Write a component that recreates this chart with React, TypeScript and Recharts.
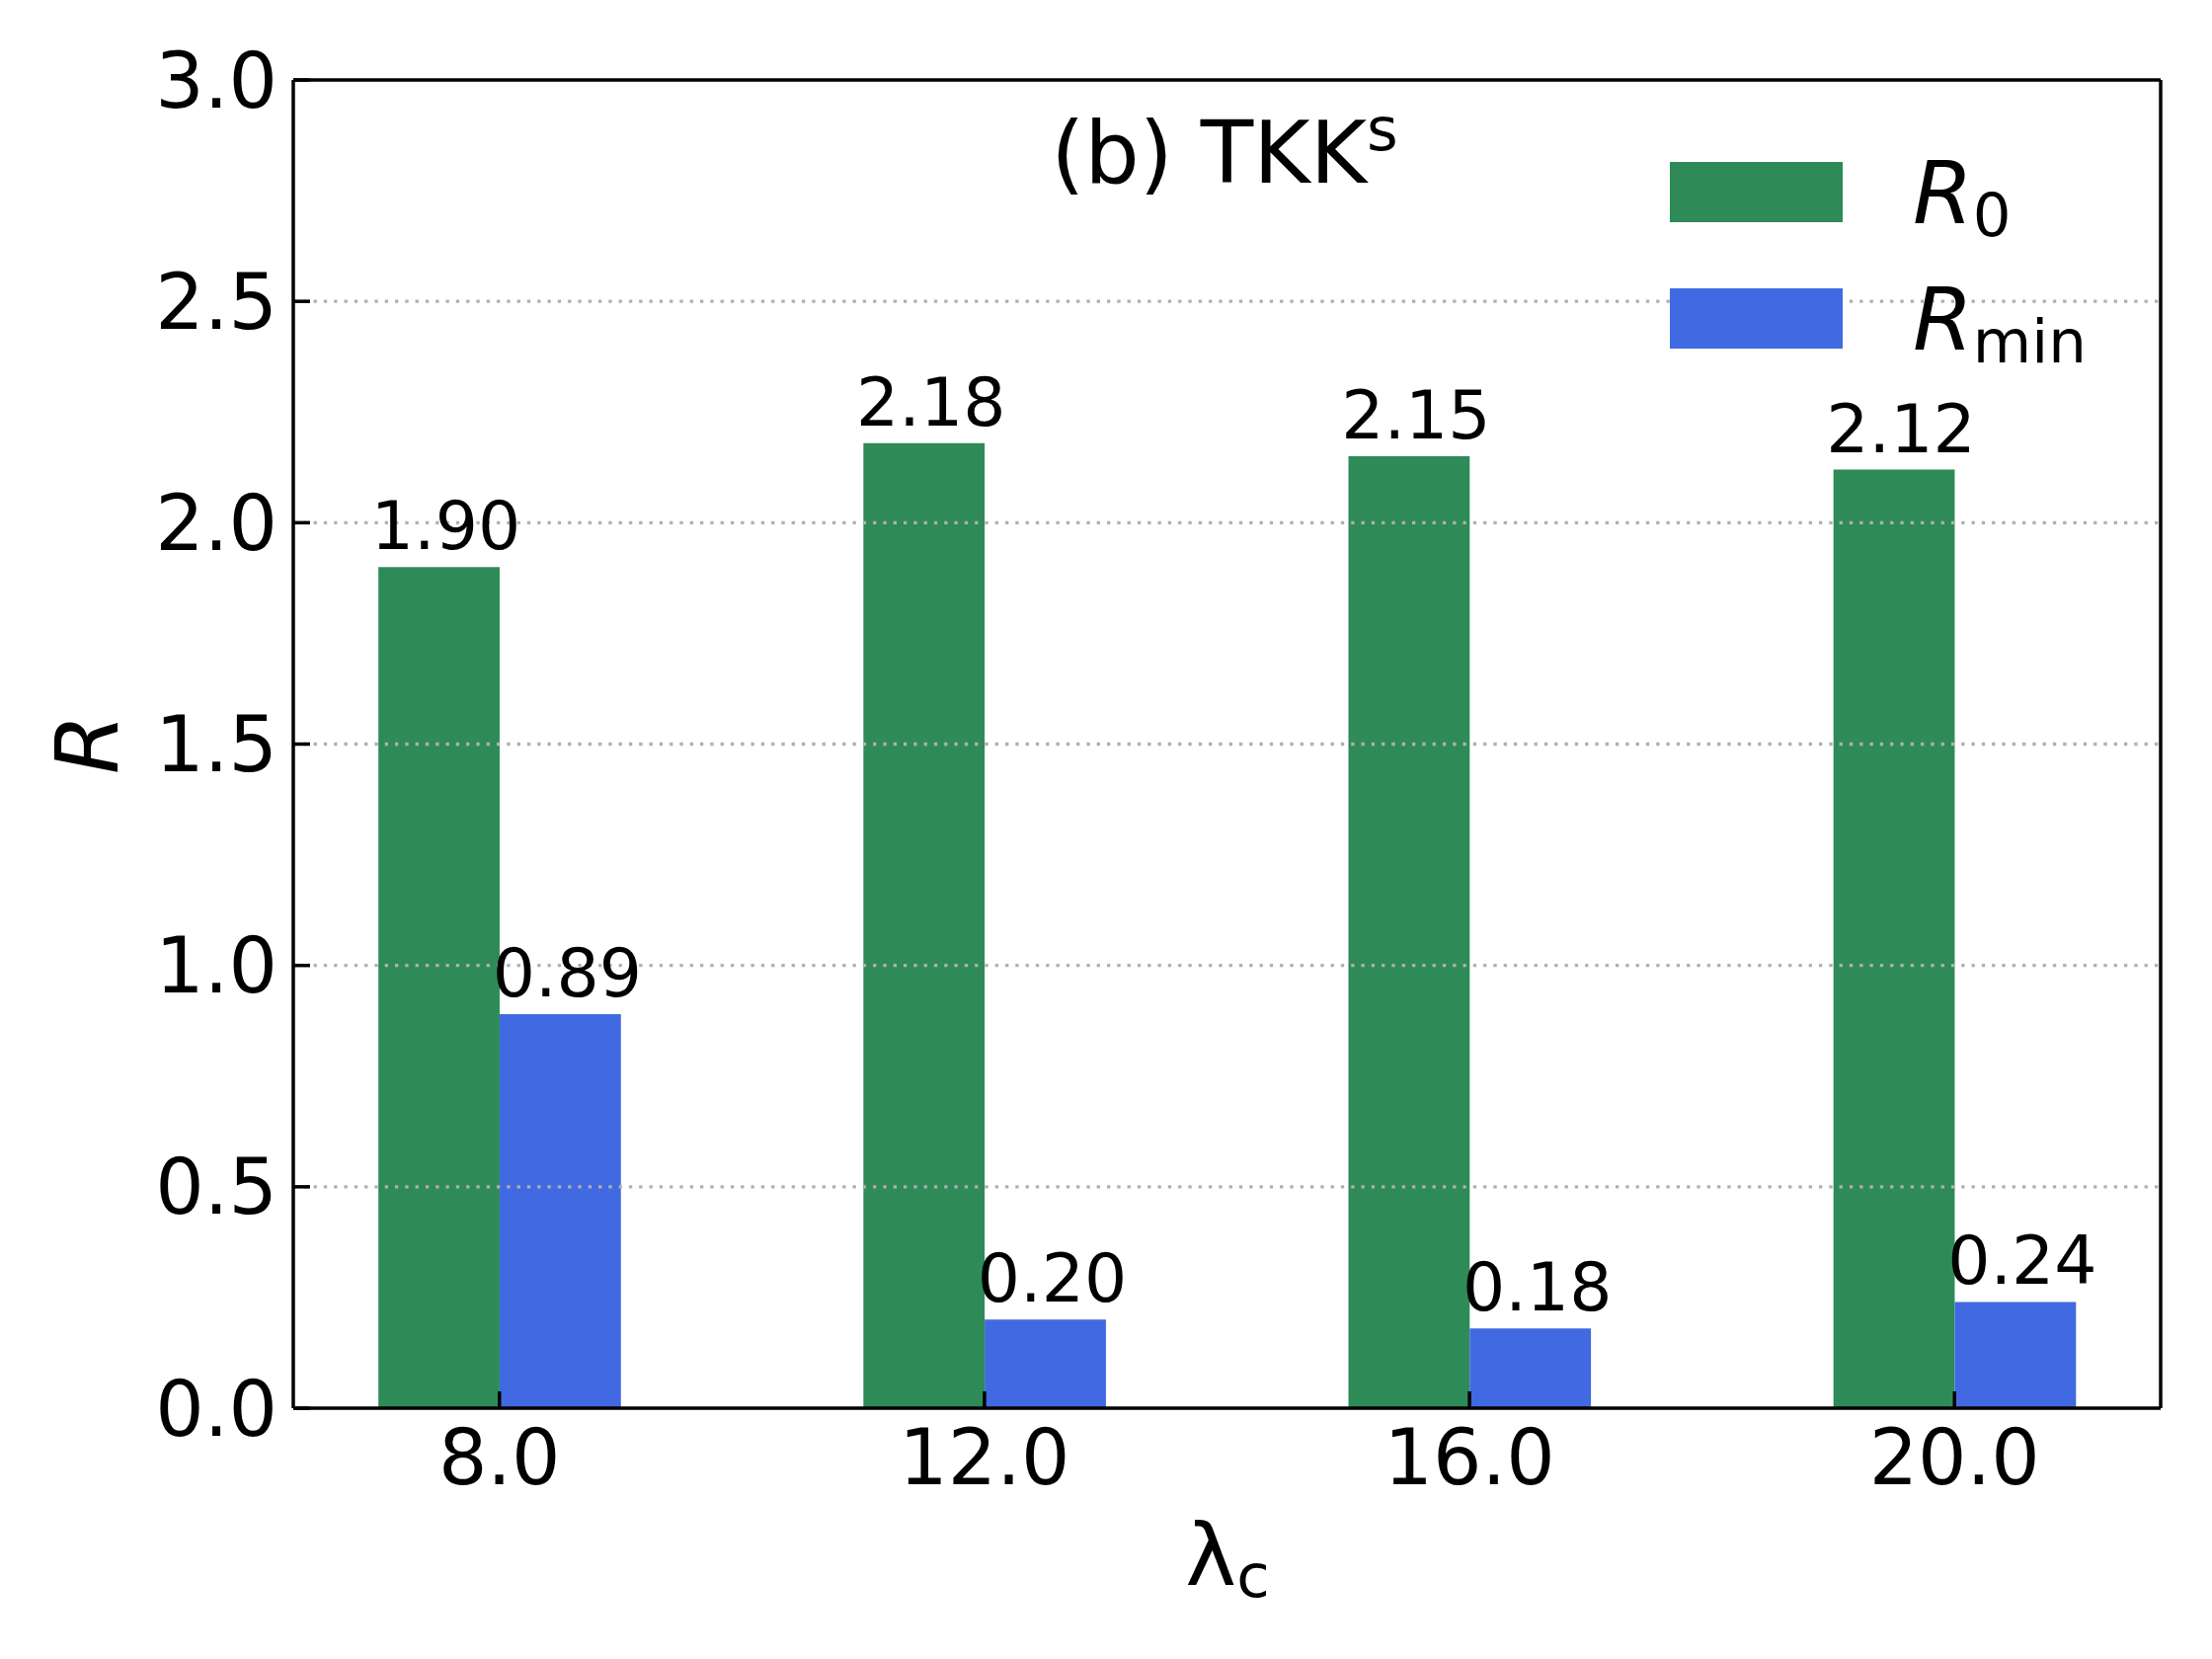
import React from "react"
import { BarChart, Bar, XAxis, YAxis, CartesianGrid, LabelList, Legend } from "recharts"

const lambdas = [8, 12, 16, 20]
const r0Values = [1.9, 2.18, 2.15, 2.12]
const rMinValues = [0.89, 0.2, 0.18, 0.24]
const yTicks = [0, 0.5, 1, 1.5, 2, 2.5, 3]
const gridValues = [0.5, 1, 1.5, 2, 2.5]
const seriesKeys = ["r0", "rMin"]
const seriesNames = ["R0", "Rmin"]
const seriesSubs = ["0", "min"]
const seriesColors = ["#2e8b57", "#4169e1"]

const data = lambdas.map((l, i) => ({ lambda: l, r0: r0Values[i], rMin: rMinValues[i] }))

const FONT = "'DejaVu Sans', sans-serif"
const axisStroke = { stroke: "#000", strokeWidth: 3.5 }
const tickStyle = { fontSize: 77.8, fill: "#000", fontFamily: FONT }

function LegendBox(props: any) {
  const payload = props?.payload || []
  return (
    <svg width={520} height={260} style={{ display: "block", overflow: "visible" }}>
      {payload.map((p: any) => {
        const i = Math.max(0, seriesKeys.indexOf(p.dataKey))
        return (
          <g key={p.dataKey}>
            <rect x={11} y={24 + i * 128} width={175} height={61} fill={seriesColors[i]} />
            <text x={257} y={86 + i * 128} fontFamily={FONT} fontSize={87.5} fill="#000">
              <tspan fontStyle="italic">R</tspan>
              <tspan fontSize={61} dy={13}>{seriesSubs[i]}</tspan>
            </text>
          </g>
        )
      })}
    </svg>
  )
}

export default function App() {
  return (
    <div style={{ position: "absolute", left: 0, top: 0, width: 2240, height: 1680, background: "#fff" }}>
      <BarChart
        width={2240}
        height={1680}
        data={data}
        margin={{ top: 80, right: 51, bottom: 0, left: 0 }}
        barGap={0}
      >
        <Bar dataKey="r0" name={seriesNames[0]} fill={seriesColors[0]} barSize={122.8} isAnimationActive={false}>
          <LabelList
            dataKey="r0"
            position="top"
            offset={18}
            dx={7}
            formatter={(v: any) => Number(v).toFixed(2)}
            fontSize={68}
            fontFamily={FONT}
            fill="#000"
          />
        </Bar>
        <Bar dataKey="rMin" name={seriesNames[1]} fill={seriesColors[1]} barSize={122.8} isAnimationActive={false}>
          <LabelList
            dataKey="rMin"
            position="top"
            offset={18}
            dx={7}
            formatter={(v: any) => Number(v).toFixed(2)}
            fontSize={68}
            fontFamily={FONT}
            fill="#000"
          />
        </Bar>
        <CartesianGrid
          vertical={false}
          horizontalValues={gridValues}
          stroke="#b0b0b0"
          strokeDasharray="3.3 7"
          strokeWidth={3.3}
          zIndex={400}
        />
        <XAxis
          dataKey="lambda"
          type="number"
          domain={[6.3, 21.7]}
          ticks={lambdas}
          interval={0}
          allowDataOverflow
          tickFormatter={(v: number) => v.toFixed(1)}
          height={254}
          tickSize={-17}
          tickMargin={38.8}
          axisLine={axisStroke}
          tickLine={axisStroke}
          tick={tickStyle}
          zIndex={600}
        />
        <XAxis
          xAxisId="top"
          dataKey="lambda"
          orientation="top"
          type="number"
          domain={[6.3, 21.7]}
          ticks={lambdas}
          interval={0}
          allowDataOverflow
          height={1}
          tickSize={-17}
          axisLine={axisStroke}
          tickLine={axisStroke}
          tick={false}
          zIndex={600}
        />
        <YAxis
          domain={[0, 3]}
          ticks={yTicks}
          interval={0}
          allowDataOverflow
          tickFormatter={(v: number) => v.toFixed(1)}
          width={297}
          tickSize={-17}
          tickMargin={33}
          axisLine={axisStroke}
          tickLine={axisStroke}
          tick={tickStyle}
          zIndex={600}
        />
        <YAxis
          yAxisId="right"
          orientation="right"
          domain={[0, 3]}
          ticks={yTicks}
          interval={0}
          allowDataOverflow
          width={1}
          tickSize={-17}
          axisLine={axisStroke}
          tickLine={axisStroke}
          tick={false}
          zIndex={600}
        />
        <Legend
          layout="horizontal"
          verticalAlign="middle"
          align="center"
          content={<LegendBox />}
          wrapperStyle={{ position: "absolute", left: 1680, top: 140, width: 520, height: 260 }}
        />
        <text x={1240} y={185} textAnchor="middle" fontFamily={FONT} fontSize={87.5} fill="#000">
          (b) TKK<tspan fontSize={61} dy={-33}>s</tspan>
        </text>
        <text x={1243} y={1605} textAnchor="middle" fontFamily={FONT} fontSize={87.5} fill="#000">
          λ<tspan fontSize={61} dy={12}>c</tspan>
        </text>
        <text
          transform="translate(119,753.5) rotate(-90)"
          textAnchor="middle"
          fontFamily={FONT}
          fontStyle="italic"
          fontSize={87.5}
          fill="#000"
        >
          R
        </text>
      </BarChart>
    </div>
  )
}
